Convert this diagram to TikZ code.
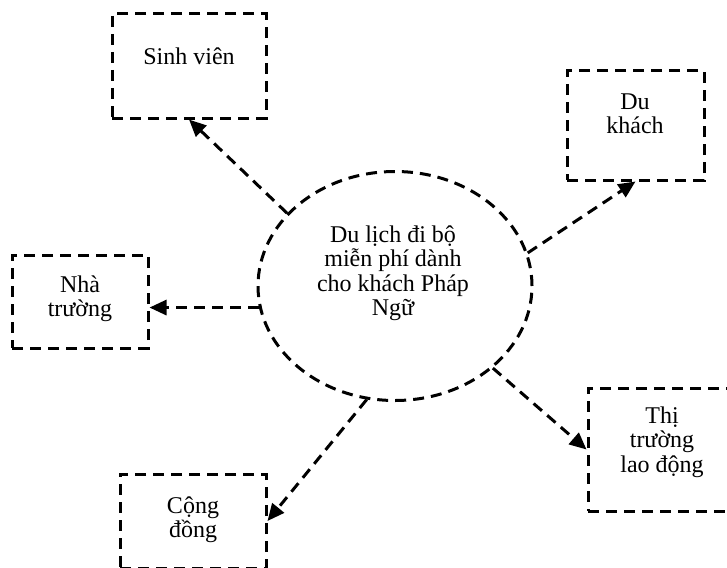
\documentclass[tikz,border=0pt]{standalone}
\usepackage{fontspec}
\setmainfont{Liberation Serif}
\usetikzlibrary{shapes.geometric,arrows.meta}

\begin{document}
\begin{tikzpicture}[x=1pt, y=-1pt,
    every node/.style={font=\fontsize{24}{24.5}\selectfont},
    bnode/.style={draw, dash pattern=on 11pt off 7pt, line width=3pt, inner sep=0pt},
    enode/.style={draw, ellipse, dash pattern=on 11pt off 7pt, line width=3pt, inner sep=0pt},
    tnode/.style={align=center, inner sep=0pt},
    arr/.style={-{Triangle[length=17pt,width=15pt]}, dash pattern=on 11pt off 7pt, line width=3pt}]
    \clip (0,0) rectangle (727,567);

    \node[enode, minimum width=274pt, minimum height=229pt] (hub) at (395, 286) {};
    \node[tnode] (hubtext) at (393, 273) {Du lịch đi bộ\\miễn phí dành\\cho khách Pháp\\Ngữ};

    \node[bnode, minimum width=154pt, minimum height=104pt] (sv) at (189, 66) {};
    \node[tnode] (svtext) at (189, 56) {Sinh viên};
    \node[bnode, minimum width=137pt, minimum height=109pt] (dk) at (635.5, 125.5) {};
    \node[tnode] (dktext) at (635, 114) {Du\\khách};
    \node[bnode, minimum width=136pt, minimum height=93pt] (nt) at (80, 301.5) {};
    \node[tnode] (nttext) at (80, 298.5) {Nhà\\trường};
    \node[bnode, minimum width=146pt, minimum height=94pt] (cd) at (193, 521) {};
    \node[tnode] (cdtext) at (193, 519.5) {Cộng\\đồng};
    \node[bnode, minimum width=148pt, minimum height=123pt] (tt) at (662, 449.5) {};
    \node[tnode] (tttext) at (662, 442) {Thị\\trường\\lao động};

    \draw[arr] (hub.146) -- (sv.south);
    \draw[arr] (hub.14.5) -- (dk.south);
    \draw[arr] (hub.189) -- (hub.189 -| nt.east);
    \draw[arr] (hub.256.7) -- (cd.east);
    \draw[arr] (hub.320.4) -- (tt.west);

\end{tikzpicture}
\end{document}
